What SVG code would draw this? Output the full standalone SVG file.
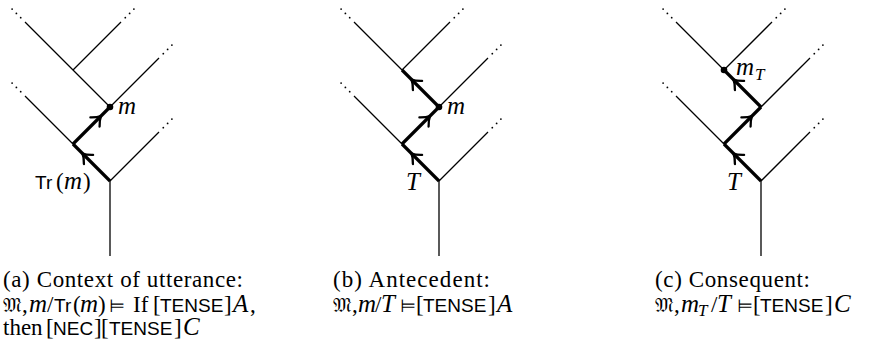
<svg xmlns="http://www.w3.org/2000/svg" xmlns:xlink="http://www.w3.org/1999/xlink" width="893" height="354" viewBox="0 0 893 354">
<style>
.thin{stroke:#000;stroke-width:1.3;fill:none;stroke-linecap:butt}
.thick{stroke:#000;stroke-width:3.2;fill:none;stroke-linecap:butt}
.ah{stroke:#000;stroke-width:2.3;fill:none;stroke-linecap:round;stroke-linejoin:round}
.dots circle{fill:#000}
text{fill:#000}
.rm{font-family:"Liberation Serif","Times New Roman",serif;font-size:23px}
.it{font-family:"Liberation Serif","Times New Roman",serif;font-size:25px;font-style:italic}
.sub{font-family:"Liberation Serif","Times New Roman",serif;font-size:17px;font-style:italic}
.sf{font-family:"Liberation Sans",Arial,sans-serif;font-size:19px}
.fr{font-family:"DejaVu Serif","DejaVu Sans","Noto Sans",serif;font-size:20px}
.sym{font-family:"DejaVu Sans","Noto Sans",sans-serif;font-size:18px}
</style>
<defs>
<path id="ah" class="ah" d="M -8.5,-6.5 C -4.8,-2.6 -1.6,-0.7 0,0 C -1.6,0.7 -4.8,2.6 -8.5,6.5"/>
<g id="dotsNE" class="dots"><circle cx="4.3" cy="-4.3" r="0.9"/><circle cx="8.6" cy="-8.6" r="0.9"/><circle cx="12.9" cy="-12.9" r="0.9"/></g>
<g id="dotsNW" class="dots"><circle cx="-4.3" cy="-4.3" r="0.9"/><circle cx="-8.6" cy="-8.6" r="0.9"/><circle cx="-12.9" cy="-12.9" r="0.9"/></g>
</defs>

<!-- Panel (a), X = 110 -->
<g id="panel-a">
<g id="a-connectors">
<line class="thin" x1="110" y1="181" x2="110" y2="256"/>
<line class="thin" x1="110" y1="181" x2="159" y2="132"/>
<line class="thin" x1="110" y1="181" x2="25" y2="96"/>
<line class="thin" x1="73" y1="144" x2="159" y2="58"/>
<line class="thin" x1="110" y1="107" x2="25" y2="22"/>
<line class="thin" x1="73" y1="70" x2="121" y2="22"/>
<line class="thick" x1="110" y1="181" x2="73" y2="144"/>
<line class="thick" x1="73" y1="144" x2="110" y2="107"/>
<use xlink:href="#ah" transform="translate(82.5,153.5) rotate(-135)"/>
<use xlink:href="#ah" transform="translate(101,116) rotate(-45)"/>
<use xlink:href="#dotsNE" transform="translate(159,132)"/>
<use xlink:href="#dotsNE" transform="translate(159,58)"/>
<use xlink:href="#dotsNE" transform="translate(121,22)"/>
<use xlink:href="#dotsNW" transform="translate(25,96)"/>
<use xlink:href="#dotsNW" transform="translate(25,22)"/>
</g>
<g id="a-node-m"><circle cx="110" cy="107" r="3.3" fill="#000"/><text class="it" x="118" y="114">m</text></g>
<g id="a-node-tr"><text y="189"><tspan class="sf" x="35">Tr</tspan><tspan class="rm" x="56">(</tspan><tspan class="it" x="64">m</tspan><tspan class="rm" x="83">)</tspan></text></g>
<g id="a-caption">
<text class="rm" x="3" y="287" textLength="240" lengthAdjust="spacing">(a) Context of utterance:</text>
<text y="312"><tspan class="fr" x="3">𝔐</tspan><tspan class="rm" x="22">,</tspan><tspan class="it" x="29">m</tspan><tspan class="rm" x="47">/</tspan><tspan class="sf" x="54">Tr</tspan><tspan class="rm" x="73">(</tspan><tspan class="it" x="80">m</tspan><tspan class="rm" x="98">)</tspan><tspan class="sym" x="109">⊨</tspan><tspan class="rm" x="133">If</tspan><tspan class="rm" x="153">[</tspan><tspan class="sf" x="160">TENSE</tspan><tspan class="rm" x="224">]</tspan><tspan class="it" x="233">A</tspan><tspan class="rm" x="250">,</tspan></text>
<text y="335"><tspan class="rm" x="3">then</tspan><tspan class="rm" x="46">[</tspan><tspan class="sf" x="53">NEC</tspan><tspan class="rm" x="94">]</tspan><tspan class="rm" x="101">[</tspan><tspan class="sf" x="109">TENSE</tspan><tspan class="rm" x="174">]</tspan><tspan class="it" x="183">C</tspan></text>
</g>
</g>

<!-- Panel (b), X = 439 -->
<g id="panel-b">
<g id="b-connectors">
<line class="thin" x1="439" y1="181" x2="439" y2="256"/>
<line class="thin" x1="439" y1="181" x2="488" y2="132"/>
<line class="thin" x1="439" y1="181" x2="354" y2="96"/>
<line class="thin" x1="402" y1="144" x2="488" y2="58"/>
<line class="thin" x1="439" y1="107" x2="354" y2="22"/>
<line class="thin" x1="402" y1="70" x2="450" y2="22"/>
<line class="thick" x1="439" y1="181" x2="402" y2="144"/>
<line class="thick" x1="402" y1="144" x2="439" y2="107"/>
<line class="thick" x1="439" y1="107" x2="402" y2="70"/>
<use xlink:href="#ah" transform="translate(411.5,153.5) rotate(-135)"/>
<use xlink:href="#ah" transform="translate(430,116) rotate(-45)"/>
<use xlink:href="#ah" transform="translate(411.5,79.5) rotate(-135)"/>
<use xlink:href="#dotsNE" transform="translate(488,132)"/>
<use xlink:href="#dotsNE" transform="translate(488,58)"/>
<use xlink:href="#dotsNE" transform="translate(450,22)"/>
<use xlink:href="#dotsNW" transform="translate(354,96)"/>
<use xlink:href="#dotsNW" transform="translate(354,22)"/>
</g>
<g id="b-node-m"><circle cx="439" cy="107" r="3.3" fill="#000"/><text class="it" x="447" y="114">m</text></g>
<g id="b-node-t"><text class="it" x="406" y="190">T</text></g>
<g id="b-caption">
<text class="rm" x="333" y="287" textLength="157" lengthAdjust="spacing">(b) Antecedent:</text>
<text y="312"><tspan class="fr" x="333">𝔐</tspan><tspan class="rm" x="352">,</tspan><tspan class="it" x="358">m</tspan><tspan class="rm" x="375">/</tspan><tspan class="it" x="381">T</tspan><tspan class="sym" x="400">⊨</tspan><tspan class="rm" x="416">[</tspan><tspan class="sf" x="423">TENSE</tspan><tspan class="rm" x="488">]</tspan><tspan class="it" x="497">A</tspan></text>
</g>
</g>

<!-- Panel (c), X = 761 -->
<g id="panel-c">
<g id="c-connectors">
<line class="thin" x1="761" y1="181" x2="761" y2="256"/>
<line class="thin" x1="761" y1="181" x2="810" y2="132"/>
<line class="thin" x1="761" y1="181" x2="676" y2="96"/>
<line class="thin" x1="724" y1="144" x2="810" y2="58"/>
<line class="thin" x1="761" y1="107" x2="676" y2="22"/>
<line class="thin" x1="724" y1="70" x2="772" y2="22"/>
<line class="thick" x1="761" y1="181" x2="724" y2="144"/>
<line class="thick" x1="724" y1="144" x2="761" y2="107"/>
<line class="thick" x1="761" y1="107" x2="724" y2="70"/>
<use xlink:href="#ah" transform="translate(733.5,153.5) rotate(-135)"/>
<use xlink:href="#ah" transform="translate(752,116) rotate(-45)"/>
<use xlink:href="#ah" transform="translate(733.5,79.5) rotate(-135)"/>
<use xlink:href="#dotsNE" transform="translate(810,132)"/>
<use xlink:href="#dotsNE" transform="translate(810,58)"/>
<use xlink:href="#dotsNE" transform="translate(772,22)"/>
<use xlink:href="#dotsNW" transform="translate(676,96)"/>
<use xlink:href="#dotsNW" transform="translate(676,22)"/>
</g>
<g id="c-node-mt"><circle cx="724" cy="70" r="3.3" fill="#000"/><text x="736" y="75"><tspan class="it">m</tspan><tspan class="sub" x="755" y="80">T</tspan></text></g>
<g id="c-node-t"><text class="it" x="727" y="190">T</text></g>
<g id="c-caption">
<text class="rm" x="655" y="287" textLength="155" lengthAdjust="spacing">(c) Consequent:</text>
<text y="312"><tspan class="fr" x="655">𝔐</tspan><tspan class="rm" x="674">,</tspan><tspan class="it" x="681">m</tspan><tspan class="sub" x="698" y="316">T</tspan><tspan class="rm" x="711" y="312">/</tspan><tspan class="it" x="717">T</tspan><tspan class="sym" x="737">⊨</tspan><tspan class="rm" x="753">[</tspan><tspan class="sf" x="760">TENSE</tspan><tspan class="rm" x="825">]</tspan><tspan class="it" x="834">C</tspan></text>
</g>
</g>
</svg>
